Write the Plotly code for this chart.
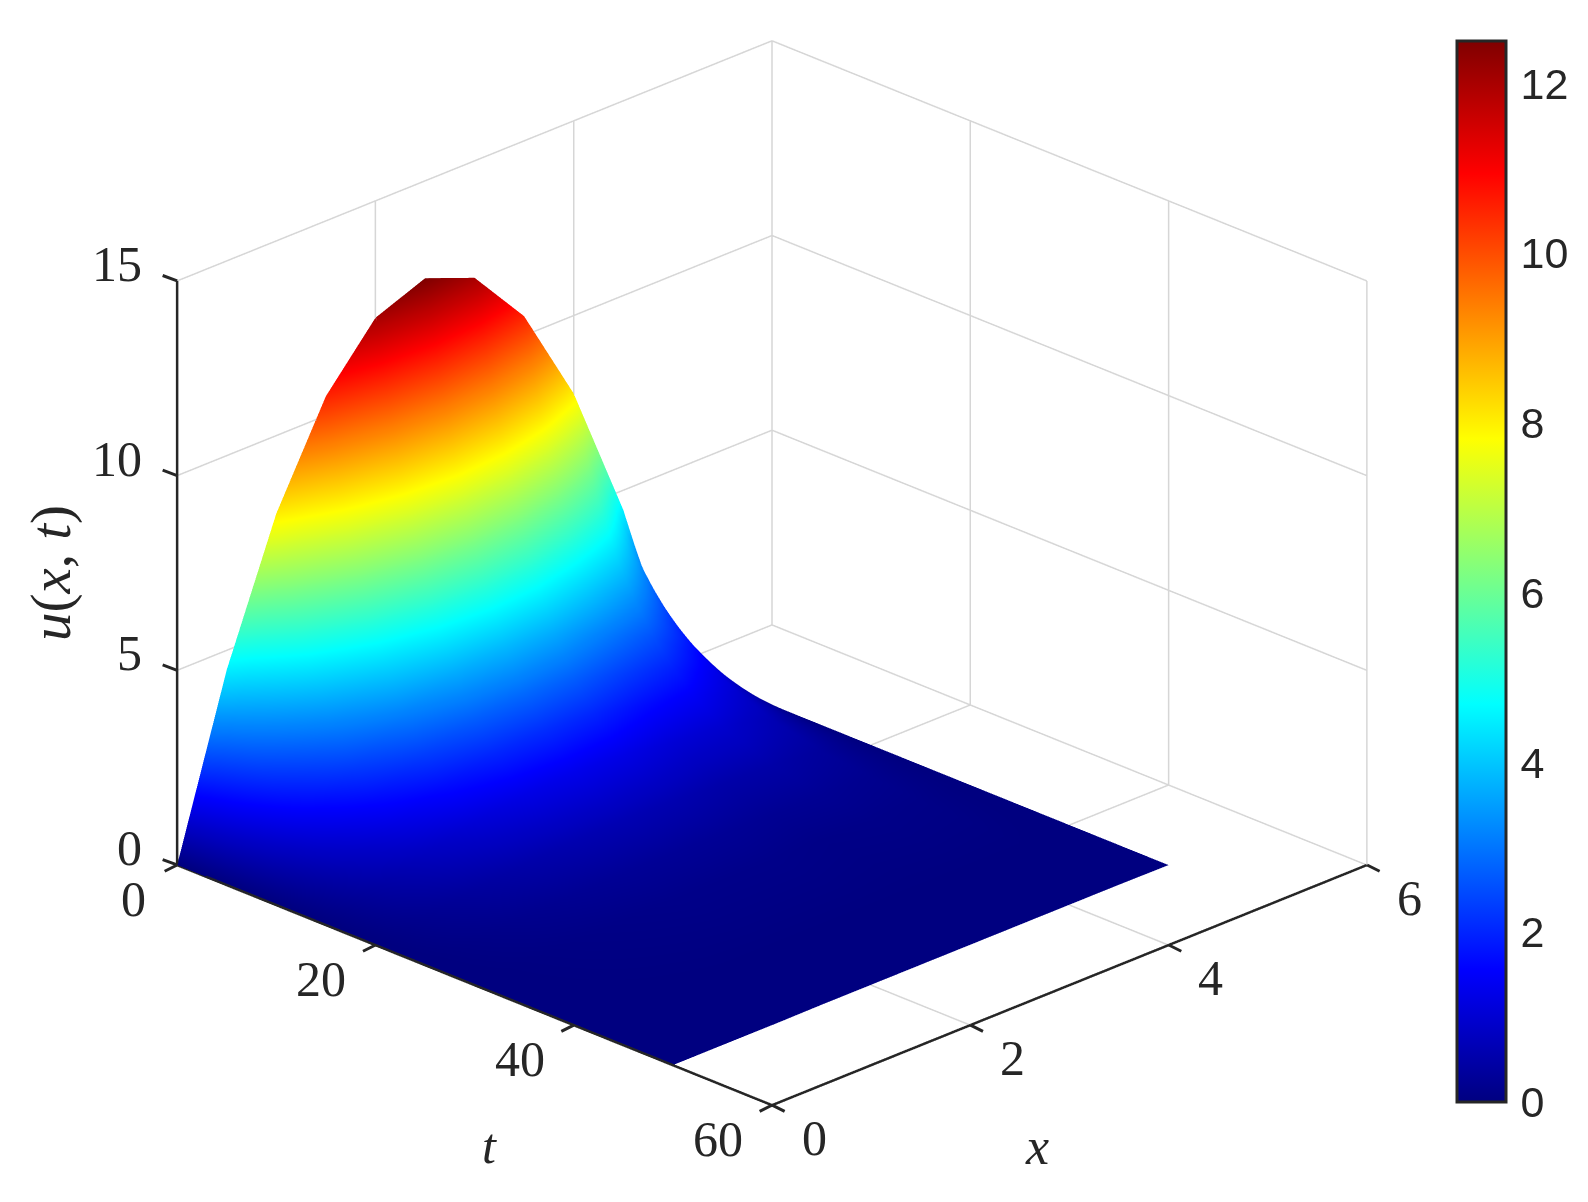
import plotly.graph_objects as go

# Values
x_values = [0, 0.5, 1, 1.5, 2, 2.5, 3, 3.5, 4, 4.5, 5]
t_values = [0, 1, 2, 3, 4, 5, 6, 8, 10, 12, 15, 20, 25, 30, 40, 50]
u_t0 = [0, 4.5, 8, 10.5, 12, 12.5, 12, 10.5, 8, 4.5, 0]
u_t1 = [0, 3.56, 6.68, 9.03, 10.46, 10.94, 10.46, 9.03, 6.78, 3.67, 0]
u_t2 = [0, 2.99, 5.67, 7.75, 9.06, 9.50, 9.06, 7.75, 5.85, 3.18, 0]
u_t3 = [0, 2.56, 4.86, 6.66, 7.81, 8.21, 7.81, 6.66, 5.09, 2.80, 0]
u_t4 = [0, 2.19, 4.16, 5.73, 6.73, 7.07, 6.73, 5.73, 4.43, 2.47, 0]
u_t5 = [0, 1.88, 3.58, 4.93, 5.79, 6.09, 5.79, 4.93, 3.87, 2.19, 0]
u_t6 = [0, 1.62, 3.09, 4.25, 4.99, 5.25, 4.99, 4.25, 3.38, 1.94, 0]
u_t8 = [0, 1.20, 2.28, 3.14, 3.69, 3.88, 3.69, 3.14, 2.58, 1.53, 0]
u_t10 = [0, 0.89, 1.69, 2.33, 2.74, 2.88, 2.74, 2.33, 1.97, 1.20, 0]
u_t12 = [0, 0.66, 1.25, 1.72, 2.03, 2.13, 2.03, 1.72, 1.50, 0.95, 0]
u_t15 = [0, 0.42, 0.79, 1.09, 1.28, 1.35, 1.28, 1.09, 1.00, 0.66, 0]
u_t20 = [0, 0.20, 0.38, 0.52, 0.61, 0.65, 0.61, 0.52, 0.51, 0.36, 0]
u_t25 = [0, 0.09, 0.18, 0.25, 0.29, 0.30, 0.29, 0.25, 0.26, 0.20, 0]
u_t30 = [0, 0.04, 0.08, 0.11, 0.14, 0.14, 0.14, 0.11, 0.13, 0.11, 0]
u_t40 = [0, 0.01, 0.02, 0.03, 0.03, 0.03, 0.03, 0.03, 0.03, 0.03, 0]
u_t50 = [0, 0.00, 0.00, 0.01, 0.01, 0.01, 0.01, 0.01, 0.01, 0.01, 0]
u_rows = [u_t0, u_t1, u_t2, u_t3, u_t4, u_t5, u_t6, u_t8, u_t10, u_t12,
          u_t15, u_t20, u_t25, u_t30, u_t40, u_t50]
# z[i][j] belongs to y[i], x[j]; scene x = t, scene y = x -> transpose
z_matrix = [list(col) for col in zip(*u_rows)]

x_ticks = [0, 2, 4, 6]
t_ticks = [0, 20, 40, 60]
u_ticks = [0, 5, 10, 15]
bar_ticks = [0, 2, 4, 6, 8, 10, 12]

jet = [[0, "rgb(0,0,128)"], [0.125, "rgb(0,0,255)"], [0.375, "rgb(0,255,255)"],
       [0.625, "rgb(255,255,0)"], [0.875, "rgb(255,0,0)"], [1, "rgb(128,0,0)"]]

SERIF = "Liberation Serif"
DARK = "#262626"
GRID = "#d6d6d6"
T0, T1 = t_ticks[0], t_ticks[-1]
X0, X1 = x_ticks[0], x_ticks[-1]
U0, U1 = u_ticks[0], u_ticks[-1]
T_END, X_END = t_values[-1], x_values[-1]   # where the surface stops on the floor


def segments(pairs):
    """Join (start, end) 3-D pairs into one gapped polyline."""
    xs, ys, zs = [], [], []
    for a, b in pairs:
        xs += [a[0], b[0], None]
        ys += [a[1], b[1], None]
        zs += [a[2], b[2], None]
    return xs, ys, zs


# scene coordinates are (t, x, u); floor lines stop at the edge of the surface
grid_pairs = []
for xv in x_ticks[1:]:
    grid_pairs.append(((T0, xv, U0), (T0, xv, U1)))
    start = T0 if xv == X1 else T_END
    grid_pairs.append(((start, xv, U0), (T1, xv, U0)))
for tv in t_ticks:
    grid_pairs.append(((tv, X1, U0), (tv, X1, U1)))
for tv in t_ticks[:-1]:
    grid_pairs.append(((tv, X_END, U0), (tv, X1, U0)))
for uv in u_ticks[1:]:
    grid_pairs.append(((T0, X0, uv), (T0, X1, uv)))
    grid_pairs.append(((T0, X1, uv), (T1, X1, uv)))
gx, gy, gz = segments(grid_pairs)

axis_pairs = [
    ((T0, X0, U0), (T0, X0, U1)),
    ((T0, X0, U0), (T1, X0, U0)),
    ((T1, X0, U0), (T1, X1, U0)),
]
ax_x, ax_y, ax_z = segments(axis_pairs)

surface = go.Surface(
    x=t_values, y=x_values, z=z_matrix,
    colorscale=jet, cmin=0, cmax=12.5,
    lighting=dict(ambient=1, diffuse=0, specular=0, fresnel=0, roughness=1),
    hoverinfo="skip",
    colorbar=dict(
        x=1449 / 1588, xanchor="left", xref="paper",
        y=108 / 1202, yanchor="bottom", yref="paper",
        len=1061, lenmode="pixels", thickness=49, thicknessmode="pixels",
        tickvals=bar_ticks, ticks="outside", ticklen=5,
        tickcolor="rgba(0,0,0,0)", tickwidth=1,
        outlinecolor=DARK, outlinewidth=3, borderwidth=0, xpad=0, ypad=0,
        tickfont=dict(family="Liberation Sans", size=43, color=DARK),
    ),
)
grid_trace = go.Scatter3d(x=gx, y=gy, z=gz, mode="lines", hoverinfo="skip",
                          showlegend=False, line=dict(color=GRID, width=3))
axis_trace = go.Scatter3d(x=ax_x, y=ax_y, z=ax_z, mode="lines", hoverinfo="skip",
                          showlegend=False, line=dict(color=DARK, width=5))
fig = go.Figure([grid_trace, surface, axis_trace])


def label(t, x, u, text, dx, dy, anchor="center", size=50, angle=0):
    return dict(x=t, y=x, z=u, text=text, showarrow=False, xanchor=anchor,
                yanchor="middle", xshift=dx, yshift=dy, textangle=angle,
                font=dict(family=SERIF, size=size, color=DARK))


def tick(t, x, u, ax, ay):
    return dict(x=t, y=x, z=u, text=" ", showarrow=True, arrowhead=0,
                arrowwidth=3, arrowcolor=DARK, ax=ax, ay=ay, standoff=0,
                font=dict(size=1))


notes = []
for uv in u_ticks:
    notes.append(label(T0, X0, uv, str(uv), -33, 17, anchor="right"))
    notes.append(tick(T0, X0, uv, -16, -6))
for tv in t_ticks:
    notes.append(label(tv, X0, U0, str(tv), -44 if tv == 0 else -54, -34))
    notes.append(tick(tv, X0, U0, -14, 7))
for xv in x_ticks:
    notes.append(label(T1, xv, U0, str(xv), 42, -33))
    notes.append(tick(T1, xv, U0, 14, 7))
notes.append(label(30, X0, U0, "<i>t</i>", 15, -161, size=50))
notes.append(label(T1, 3, U0, "<i>x</i>", -33, -161, size=52))
notes.append(label(T0, X0, 7.5, "<i>u</i>(<i>x</i>, <i>t</i>)", -126, 0, size=57, angle=-90))


def axis(rng):
    return dict(title=dict(text=""), range=rng, showticklabels=False, ticks="",
                showgrid=False, showline=False, showbackground=False,
                zeroline=False, showspikes=False)


fig.update_layout(
    width=1588, height=1202,
    margin=dict(l=0, r=0, t=0, b=0),
    paper_bgcolor="white",
    showlegend=False,
    scene=dict(
        domain=dict(x=[0, 0.9624], y=[0.06, 1]),
        xaxis=axis([T0, T1]),
        yaxis=axis([X0, X1]),
        zaxis=axis([U0, U1]),
        aspectmode="manual",
        aspectratio=dict(x=1.489, y=1.489, z=1.13),
        annotations=notes,
        camera=dict(
            projection=dict(type="orthographic"),
            eye=dict(x=1.25, y=-1.25, z=0.78),
            center=dict(x=0, y=0, z=0),
            up=dict(x=0, y=0, z=1),
        ),
    ),
)
fig.write_html("out.html")
